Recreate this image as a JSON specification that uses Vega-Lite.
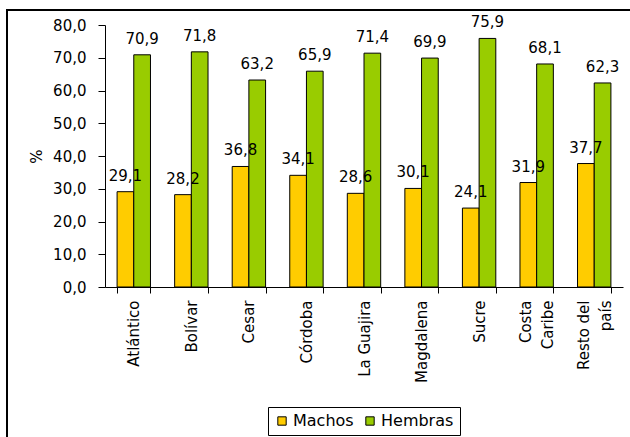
{
  "$schema": "https://vega.github.io/schema/vega-lite/v6.json",
  "width": 628,
  "height": 432,
  "autosize": {"type": "none"},
  "padding": {"left": 7, "top": 10, "right": -5, "bottom": -5},
  "config": {
    "locale": {"number": {"decimal": ",", "thousands": ".", "grouping": [3], "currency": ["$", ""]}},
    "font": "DejaVu Sans",
    "view": {"stroke": "black", "strokeWidth": 2},
    "axis": {
      "labelFont": "DejaVu Sans",
      "labelFontSize": 15,
      "labelColor": "black",
      "domainColor": "black",
      "domainWidth": 1,
      "tickColor": "black",
      "tickWidth": 1,
      "grid": false
    }
  },
  "data": {
    "values": [
      {"region": "Atlántico", "sexo": "Machos", "pct": 29.1},
      {"region": "Atlántico", "sexo": "Hembras", "pct": 70.9},
      {"region": "Bolívar", "sexo": "Machos", "pct": 28.2},
      {"region": "Bolívar", "sexo": "Hembras", "pct": 71.8},
      {"region": "Cesar", "sexo": "Machos", "pct": 36.8},
      {"region": "Cesar", "sexo": "Hembras", "pct": 63.2},
      {"region": "Córdoba", "sexo": "Machos", "pct": 34.1},
      {"region": "Córdoba", "sexo": "Hembras", "pct": 65.9},
      {"region": "La Guajira", "sexo": "Machos", "pct": 28.6},
      {"region": "La Guajira", "sexo": "Hembras", "pct": 71.4},
      {"region": "Magdalena", "sexo": "Machos", "pct": 30.1},
      {"region": "Magdalena", "sexo": "Hembras", "pct": 69.9},
      {"region": "Sucre", "sexo": "Machos", "pct": 24.1},
      {"region": "Sucre", "sexo": "Hembras", "pct": 75.9},
      {"region": "Costa Caribe", "sexo": "Machos", "pct": 31.9},
      {"region": "Costa Caribe", "sexo": "Hembras", "pct": 68.1},
      {"region": "Resto del país", "sexo": "Machos", "pct": 37.7},
      {"region": "Resto del país", "sexo": "Hembras", "pct": 62.3}
    ]
  },
  "encoding": {
    "x": {
      "field": "region",
      "type": "nominal",
      "sort": null,
      "scale": {"range": [98, 616], "paddingInner": 0.42, "paddingOuter": 0.21},
      "axis": {
        "title": null,
        "offset": -155,
        "labelAngle": -90,
        "labelAlign": "right",
        "labelBaseline": "middle",
        "labelPadding": 7,
        "labelLineHeight": 22,
        "labelOffset": {"condition": {"test": "datum.value == 'Costa Caribe' || datum.value == 'Resto del país'", "value": -11}, "value": 0},
        "tickBand": "extent",
        "tickSize": 6,
        "labelExpr": "datum.value == 'Costa Caribe' ? ['Costa', 'Caribe'] : datum.value == 'Resto del país' ? ['Resto del', 'país'] : datum.value"
      }
    },
    "xOffset": {"field": "sexo", "sort": ["Machos", "Hembras"]},
    "y": {
      "field": "pct",
      "type": "quantitative",
      "scale": {"domain": [0, 80], "range": [277, 15], "nice": false},
      "axis": {
        "title": "%",
        "titleFont": "DejaVu Sans",
        "titleFontSize": 15,
        "titleFontWeight": "normal",
        "titleColor": "black",
        "titlePadding": 8,
        "offset": -98,
        "values": [0, 10, 20, 30, 40, 50, 60, 70, 80],
        "format": ".1f",
        "tickSize": 7,
        "labelPadding": 12
      }
    }
  },
  "layer": [
    {
      "mark": {"type": "bar", "stroke": "black", "strokeWidth": 1},
      "encoding": {
        "color": {
          "field": "sexo",
          "type": "nominal",
          "scale": {"domain": ["Machos", "Hembras"], "range": ["#FFCC00", "#99CC00"]},
          "legend": {
            "orient": "none",
            "legendX": 261,
            "legendY": 397,
            "direction": "horizontal",
            "title": null,
            "strokeColor": "black",
            "padding": 6,
            "symbolType": "square",
            "symbolSize": 70,
            "symbolStrokeColor": "black",
            "symbolStrokeWidth": 1,
            "symbolOpacity": 1,
            "labelFont": "DejaVu Sans",
            "labelFontSize": 16,
            "labelColor": "black",
            "labelOffset": 3,
            "columnPadding": 8
          }
        }
      }
    },
    {
      "mark": {"type": "text", "baseline": "alphabetic", "dy": -11, "fontSize": 15, "font": "DejaVu Sans", "color": "black"},
      "encoding": {
        "text": {"field": "pct", "type": "quantitative", "format": ".1f"}
      }
    }
  ]
}
